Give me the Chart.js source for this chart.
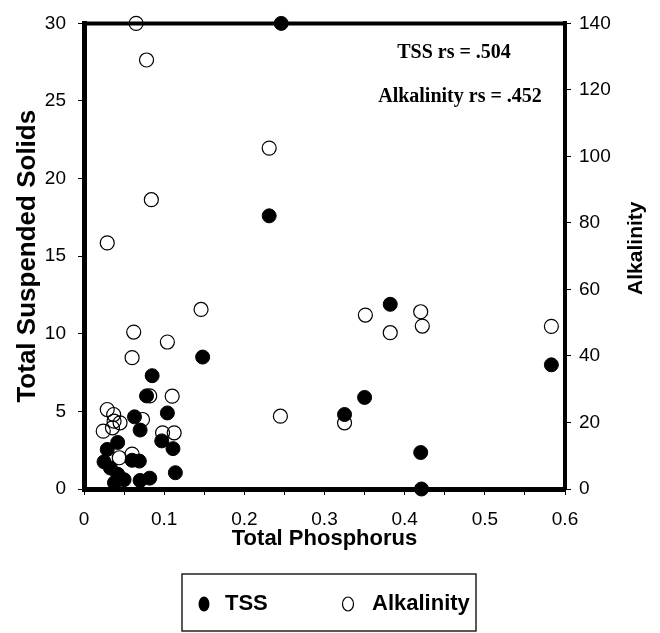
<!DOCTYPE html>
<html><head><meta charset="utf-8">
<script src="https://cdn.jsdelivr.net/npm/chart.js@4.4.1/dist/chart.umd.min.js"></script>
<style>html,body{margin:0;padding:0;background:#fff}#wrap{width:660px;height:633px;position:relative}</style>
</head><body><div id="wrap"><canvas id="c" width="660" height="633"></canvas></div>
<script>
// ---- data ----
const tssPhosphorus = [0.246,0.231,0.148,0.350,0.325,0.382,0.420,0.421,0.583,0.085,0.078,0.104,0.063,0.070,0.097,0.111,0.042,0.029,0.025,0.033,0.042,0.038,0.050,0.060,0.069,0.114,0.070,0.082];
const tssValues      = [30,17.6,8.5,5.9,4.8,11.9,2.35,0,8.0,7.3,6.0,4.9,4.65,3.8,3.1,2.6,3.0,2.55,1.75,1.35,0.95,0.4,0.6,1.85,1.8,1.05,0.55,0.7];
const alkPhosphorus  = [0.065,0.078,0.084,0.029,0.231,0.146,0.062,0.104,0.060,0.245,0.325,0.351,0.382,0.420,0.422,0.583,0.082,0.110,0.029,0.037,0.0375,0.045,0.0355,0.024,0.073,0.098,0.1125,0.044,0.060];
const alkValues      = [140,129,87,74,102.5,54,47.2,44.2,39.5,21.9,19.9,52.3,47,53.3,49,48.9,28,27.9,23.9,22.4,20.4,19.9,18.4,17.4,20.9,16.9,16.9,9.4,10.5];
const seriesNames = ['TSS','Alkalinity'];
const axisTitles = {x:'Total Phosphorus', y:'Total Suspended Solids', y2:'Alkalinity'};
const annotations = ['TSS rs = .504','Alkalinity rs = .452'];

const SANS = "'Liberation Sans', Arial, sans-serif";
const SERIF = "'Liberation Serif', 'Times New Roman', serif";
const toPts = (xs, ys) => xs.map((x,i)=>({x, y: ys[i]}));

const frameAndText = {
  id:'frameAndText',
  beforeDatasetsDraw(chart){
    const {ctx, chartArea:a} = chart;
    ctx.save();
    ctx.strokeStyle='#000'; ctx.lineWidth=4;
    ctx.beginPath(); ctx.moveTo(a.left-2, a.top); ctx.lineTo(a.right+2, a.top); ctx.stroke();
    ctx.restore();
  },
  afterDraw(chart){
    const {ctx, chartArea:a} = chart;
    ctx.save();
    ctx.fillStyle='#000';
    ctx.font = "bold 21px " + SANS;
    ctx.textAlign='center'; ctx.textBaseline='middle';
    ctx.translate(636, (a.top+a.bottom)/2 - 8);
    ctx.rotate(-Math.PI/2);
    ctx.fillText(axisTitles.y2, 0, 0);
    ctx.restore();

    ctx.save();
    ctx.fillStyle='#000';
    ctx.font = "bold 20px " + SERIF;
    ctx.textAlign='center'; ctx.textBaseline='middle';
    ctx.fillText(annotations[0], 454, 53);
    ctx.fillText(annotations[1], 460, 97);
    ctx.restore();

    ctx.save();
    ctx.strokeStyle='#222'; ctx.lineWidth=1.5;
    ctx.strokeRect(182, 574, 294, 57);
    const cy = 604;
    ctx.fillStyle='#000';
    ctx.beginPath(); ctx.ellipse(204, cy, 5.5, 7.5, 0, 0, Math.PI*2); ctx.fill();
    ctx.lineWidth=1.2; ctx.strokeStyle='#000';
    ctx.beginPath(); ctx.ellipse(348, cy, 5.5, 7, 0, 0, Math.PI*2); ctx.stroke();
    ctx.font = "bold 22px " + SANS;
    ctx.textAlign='left'; ctx.textBaseline='middle';
    ctx.fillText(chart.data.datasets[0].label, 225, cy);
    ctx.fillText(chart.data.datasets[1].label, 372, cy);
    ctx.restore();
  }
};

const tickFont = {family: SANS, size: 19};
new Chart(document.getElementById('c'), {
  type:'scatter',
  data:{datasets:[
    {label:seriesNames[0], data: toPts(tssPhosphorus, tssValues), yAxisID:'y',
     backgroundColor:'#000', borderColor:'#000', borderWidth:1, pointRadius:7, pointHoverRadius:7, clip:false, order:1},
    {label:seriesNames[1], data: toPts(alkPhosphorus, alkValues), yAxisID:'y2',
     backgroundColor:'rgba(0,0,0,0)', borderColor:'#000', borderWidth:1.2, pointRadius:7, pointHoverRadius:7, clip:false, order:0}
  ]},
  options:{
    responsive:false, animation:false, devicePixelRatio:1,
    layout:{padding:{top:22,left:0,right:0,bottom:0}},
    plugins:{legend:{display:false}, tooltip:{enabled:false}},
    scales:{
      x:{type:'linear', min:0, max:0.6,
        ticks:{stepSize:0.05, autoSkip:false, maxRotation:0, color:'#000', font:tickFont, padding:13,
          callback:(v)=>{const t=v*10; return Math.abs(t-Math.round(t))<1e-6 ? String(Math.round(t)/10) : '';}},
        grid:{drawOnChartArea:false, color:'#000', tickLength:6, tickWidth:1},
        border:{color:'#000', width:5},
        title:{display:true, text:axisTitles.x, color:'#000', font:{family:SANS, size:22, weight:'bold'}, padding:{top:0,bottom:81}},
        afterFit:(s)=>{s.height = 144;}
      },
      y:{type:'linear', position:'left', min:0, max:30,
        ticks:{stepSize:5, color:'#000', font:tickFont, padding:12},
        grid:{drawOnChartArea:false, color:'#000', tickLength:6, tickWidth:1},
        border:{color:'#000', width:5},
        title:{display:true, text:axisTitles.y, color:'#000', font:{family:SANS, size:26, weight:'bold'}, padding:{top:12,bottom:0}},
        afterFit:(s)=>{s.width = 84;}
      },
      y2:{type:'linear', position:'right', min:0, max:140,
        ticks:{stepSize:20, color:'#000', font:tickFont, padding:8},
        grid:{drawOnChartArea:false, color:'#000', tickLength:6, tickWidth:1},
        border:{color:'#000', width:4},
        title:{display:false},
        afterFit:(s)=>{s.width = 95;}
      }
    }
  },
  plugins:[frameAndText]
});
</script></body></html>
